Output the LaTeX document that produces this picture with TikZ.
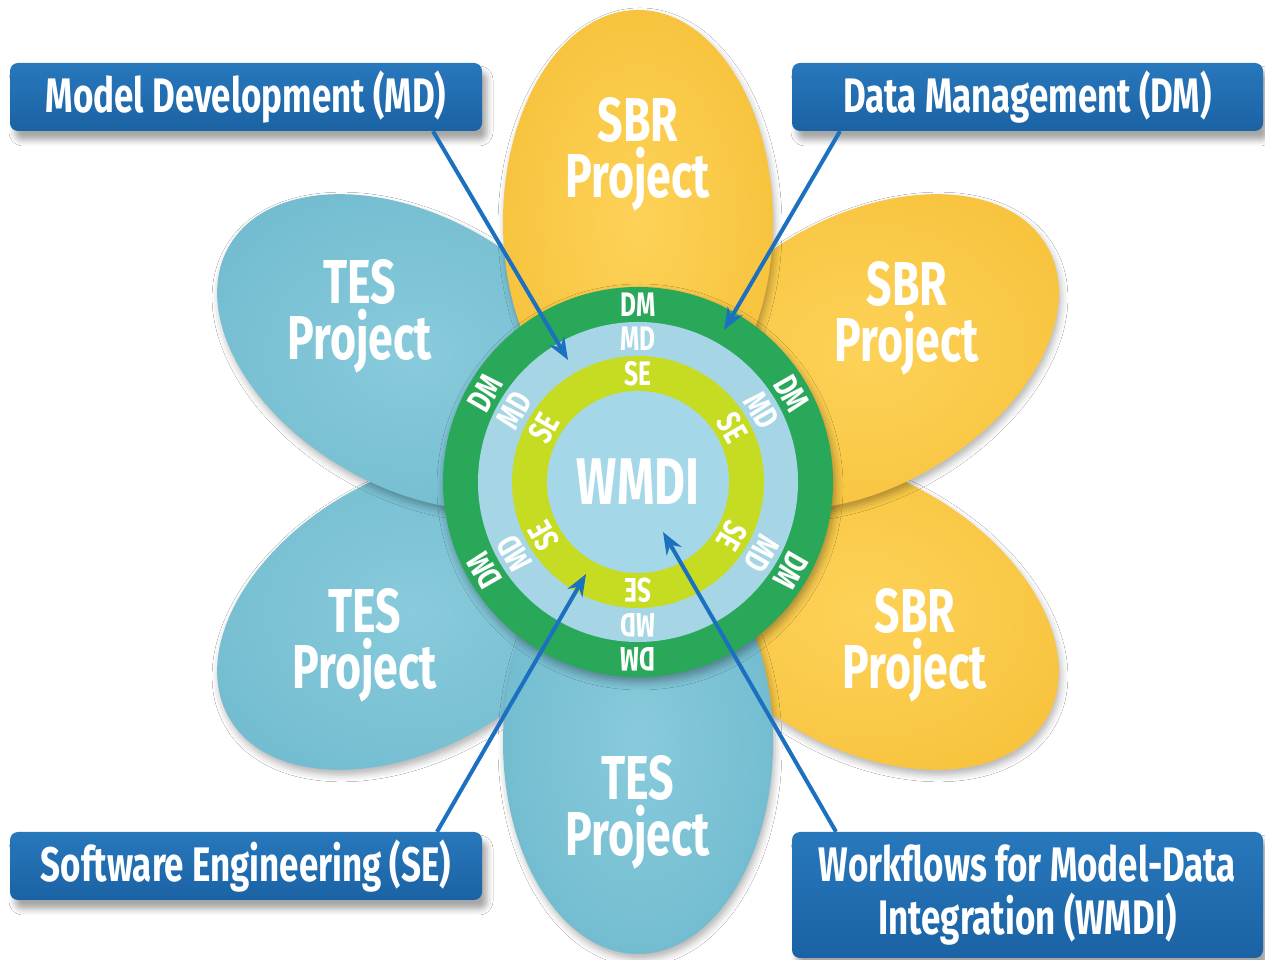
\documentclass[tikz,border=0pt]{standalone}
\usepackage{fontspec}
\setmainfont{Fira Sans}[FakeStretch=0.72]
\usetikzlibrary{shadows,shadows.blur,arrows.meta,calc}
\definecolor{sbrin}{HTML}{FDD258}
\definecolor{sbrout}{HTML}{F8C43F}
\definecolor{tesin}{HTML}{88CBDC}
\definecolor{tesout}{HTML}{74BDD0}
\definecolor{ringgreen}{HTML}{2AA85A}
\definecolor{ringblue}{HTML}{A6D6E5}
\definecolor{ringyg}{HTML}{C6DC22}
\definecolor{innerblue}{HTML}{A4D7E8}
\definecolor{boxtop}{HTML}{2878BC}
\definecolor{boxbot}{HTML}{1A62A4}
\definecolor{arrowblue}{HTML}{1C70C0}
\newcommand{\drawpetal}[4]{%
  \begin{scope}[shift={(#1,#2)},rotate=#3]
    \shade[petalshadow,inner color=#4in,outer color=#4out] (0,0) ellipse (212 and 135);
  \end{scope}}
\begin{document}
\begin{tikzpicture}[x=1pt,y=1pt,
  petalshadow/.style={blur shadow={shadow xshift=2pt,shadow yshift=-5pt,shadow blur radius=7pt,shadow opacity=30}},
  petaltxt/.style={text=white,font=\bfseries\fontsize{62}{56}\selectfont,align=center,inner sep=0pt},
  ringtxt/.style={text=white,font=\bfseries\fontsize{34}{34}\selectfont,inner sep=0pt},
  labelbox/.style={top color=boxtop,bottom color=boxbot,rounded corners=8pt,text=white,
    font=\bfseries\fontsize{48.5}{53}\selectfont,align=center,inner sep=0pt,
    minimum width=472pt,minimum height=68pt,
    blur shadow={shadow xshift=5pt,shadow yshift=-9pt,shadow blur radius=6pt,shadow opacity=35}},
  arr/.style={draw=arrowblue,line width=4pt,-{Stealth[length=22pt,width=17pt]}}]
\useasboundingbox (0,0) rectangle (1265,960);
\fill[white] (0,0) rectangle (1265,960);
\coordinate (C) at (638,478);

% petals
\drawpetal{412.8}{348}{210}{tes}
\drawpetal{863.2}{348}{-30}{sbr}
\drawpetal{412.8}{608}{150}{tes}
\drawpetal{863.2}{608}{30}{sbr}
\drawpetal{638}{738}{90}{sbr}
\drawpetal{638}{218}{-90}{tes}

% rings
\fill[ringgreen,blur shadow={shadow xshift=2pt,shadow yshift=-5pt,shadow blur radius=8pt,shadow opacity=35}] (C) circle (195);
\fill[ringblue] (C) circle (160);
\fill[ringyg] (C) circle (126);
\fill[innerblue] (C) circle (91);

\foreach \a/\n in {90/a,30/b,-30/c,-90/d,-150/e,150/f}{
  \node[ringtxt,rotate=\a-90] (dm\n) at ($(C)+(\a:177)$) {DM};
  \node[ringtxt,rotate=\a-90] (md\n) at ($(C)+(\a:143)$) {MD};
  \node[ringtxt,rotate=\a-90] (se\n) at ($(C)+(\a:108.5)$) {SE};
}
\node[text=white,font=\bfseries\fontsize{66}{66}\selectfont,inner sep=0pt] (wmdi) at (C) {WMDI};

% petal texts
\node[petaltxt] (p1) at (638,806) {SBR\\Project};
\node[petaltxt] (p2) at (907,642) {SBR\\Project};
\node[petaltxt] (p3) at (915,315) {SBR\\Project};
\node[petaltxt] (p4) at (638,148) {TES\\Project};
\node[petaltxt] (p5) at (365,315) {TES\\Project};
\node[petaltxt] (p6) at (360,644) {TES\\Project};

% label boxes
\node[labelbox] (mdbox) at (246,863) {Model Development (MD)};
\node[labelbox,minimum width=471pt] (dmbox) at (1027.5,863) {Data Management (DM)};
\node[labelbox] (sebox) at (246,94) {Software Engineering (SE)};
\node[labelbox,minimum width=471pt,minimum height=126pt] (wbox) at (1027.5,65) {Workflows for Model-Data\\Integration (WMDI)};

% arrows
\coordinate (mdtail) at (433,0);
\coordinate (dmtail) at (840,0);
\coordinate (setail) at (437,0);
\coordinate (wtail) at (836,0);
\coordinate (mdtip) at (568,600);
\coordinate (dmtip) at (724,630);
\coordinate (setip) at (586,386);
\coordinate (wtip) at (663,428);
\draw[arr] (mdbox.south -| mdtail) -- (mdtip);
\draw[arr] (dmbox.south -| dmtail) -- (dmtip);
\draw[arr] (sebox.north -| setail) -- (setip);
\draw[arr] (wbox.north -| wtail) -- (wtip);
\end{tikzpicture}
\end{document}
